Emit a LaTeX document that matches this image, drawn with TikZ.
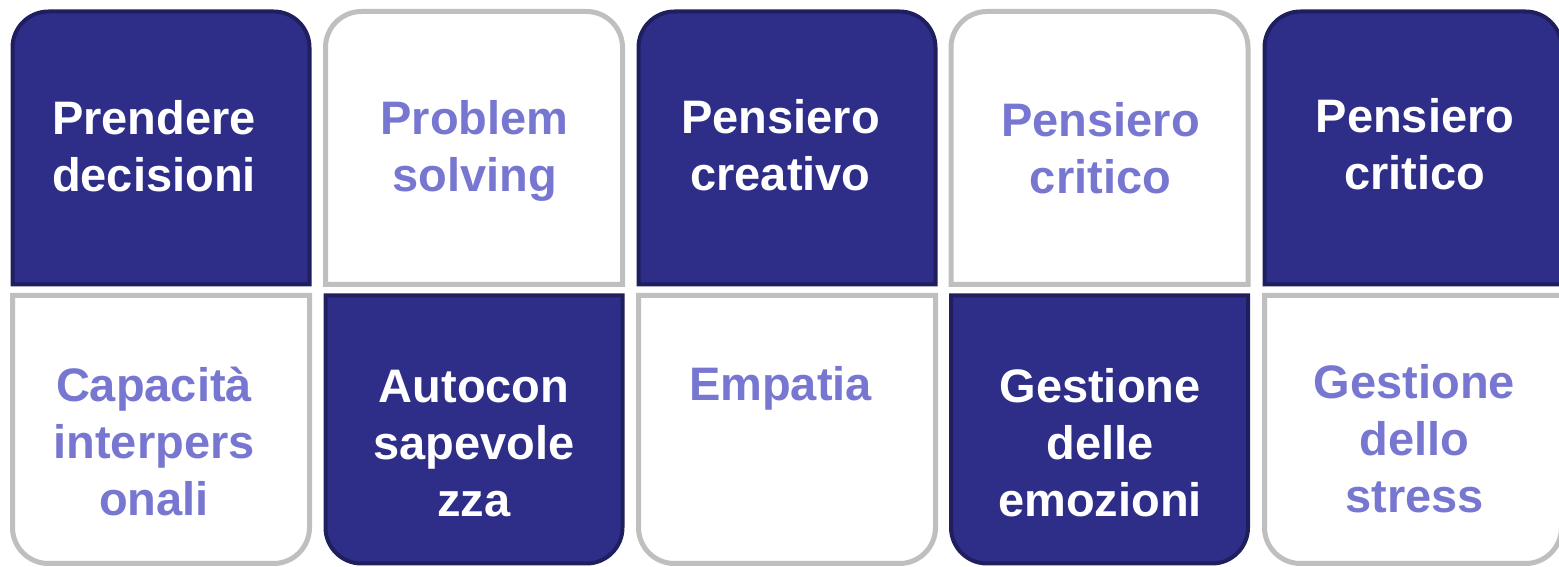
\documentclass[tikz,border=0pt]{standalone}
\usepackage{fontspec}
\setmainfont{Liberation Sans}
\definecolor{navy}{RGB}{46,46,136}
\definecolor{navyedge}{RGB}{31,31,96}
\definecolor{lilac}{RGB}{119,119,209}
\definecolor{greyedge}{RGB}{191,191,191}
\newcommand\TopTile[2]{%
  \path[#2] (#1+2.5,282.5) -- (#1+2.5,519.5) arc[start angle=180,end angle=90,radius=36]
    -- (#1+263.5,555.5) arc[start angle=90,end angle=0,radius=36]
    -- (#1+299.5,282.5) -- cycle;}
\newcommand\BotTile[2]{%
  \path[#2] (#1+2.5,271.5) -- (#1+299.5,271.5) -- (#1+299.5,39.5)
    arc[start angle=0,end angle=-90,radius=36] -- (#1+38.5,3.5)
    arc[start angle=270,end angle=180,radius=36] -- cycle;}
\begin{document}
\begin{tikzpicture}[x=1pt,y=1pt,
  darktile/.style={fill=navy,draw=navyedge,line width=4pt},
  lighttile/.style={fill=white,draw=greyedge,line width=5pt},
  lbl/.style={font=\fontsize{47}{57}\selectfont\bfseries,align=center,anchor=base,inner sep=0pt},
  ondark/.style={lbl,text=white},
  onlight/.style={lbl,text=lilac}]
\useasboundingbox (0,0) rectangle (1559,567);
\clip (0,0) rectangle (1559,567);
% top row
\TopTile{10}{darktile}
\TopTile{323}{lighttile}
\TopTile{636}{darktile}
\TopTile{948.5}{lighttile}
\TopTile{1262}{darktile}
% bottom row
\BotTile{10}{lighttile}
\BotTile{323}{darktile}
\BotTile{636}{lighttile}
\BotTile{948.5}{darktile}
\BotTile{1262}{lighttile}
% labels top (anchor = baseline of last line)
\node[ondark]  (t1) at (154,375.3)   {Prendere\\decisioni};
\node[onlight] (t2) at (474.5,375.3) {Problem\\solving};
\node[ondark]  (t3) at (780.5,376)   {Pensiero\\creativo};
\node[onlight] (t4) at (1100.5,373.5) {Pensiero\\critico};
\node[ondark]  (t5) at (1415,377)    {Pensiero\\critico};
% labels bottom
\node[onlight] (b1) at (154,51.5)    {Capacità\\interpers\\onali};
\node[ondark]  (b2) at (474,50.3)    {Autocon\\sapevole\\zza};
\node[onlight] (b3) at (780.5,166)   {Empatia};
\node[ondark]  (b4) at (1100,50)     {Gestione\\delle\\emozioni};
\node[onlight] (b5) at (1414.5,54)   {Gestione\\dello\\stress};
\end{tikzpicture}
\end{document}
